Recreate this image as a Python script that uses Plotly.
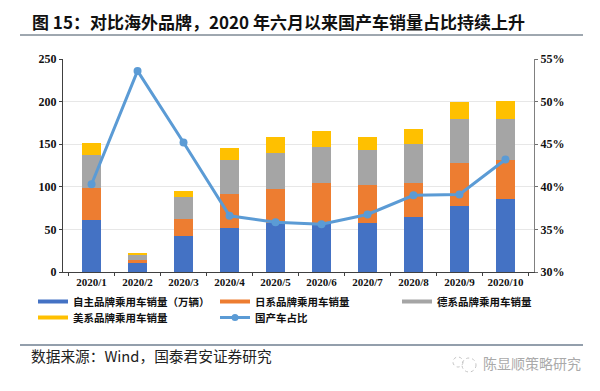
import plotly.graph_objects as go

months = ["2020/1","2020/2","2020/3","2020/4","2020/5","2020/6","2020/7","2020/8","2020/9","2020/10"]
domestic = [61, 11, 42, 52, 57, 58, 58, 65, 78, 86]
japanese = [38, 3.5, 20, 40, 41, 46, 44, 40, 50, 45.5]
german = [38, 5.5, 26, 39, 42, 43, 41, 45, 52, 48.5]
american = [15, 2, 7, 14, 18, 18.6, 16, 18, 20, 21]
share = [40.3, 53.6, 45.2, 36.6, 35.85, 35.6, 36.75, 39.0, 39.1, 43.2]

names = ["自主品牌乘用车销量\uff08万辆\uff09", "日系品牌乘用车销量", "德系品牌乘用车销量", "美系品牌乘用车销量"]
colors = ["#4472c4", "#ed7d31", "#a5a5a5", "#ffc000"]
line_name = "国产车占比"
line_color = "#5b9bd5"
title_text = "图 15\uff1a对比海外品牌\uff0c2020 年六月以来国产车销量占比持续上升"
source_text = "数据来源\uff1aWind\uff0c国泰君安证券研究"
mark_text = "陈显顺策略研究"

CJK = "Noto Sans CJK SC"
SERIF = "Liberation Serif"

# page coordinates of the plot area (the page body adds an 8px offset)
L, R, T, B = 63, 534, 59, 272
def px(x): return (x - L) / (R - L)
def py(y): return (B - y) / (B - T)

fig = go.Figure()
for name, vals, c in zip(names, [domestic, japanese, german, american], colors):
    fig.add_trace(go.Bar(x=months, y=vals, name=name, marker=dict(color=c, line=dict(width=0)),
                         showlegend=False, yaxis="y"))
fig.add_trace(go.Scatter(x=months, y=share, name=line_name, yaxis="y2", mode="lines+markers",
                         line=dict(color=line_color, width=3), marker=dict(color=line_color, size=8),
                         showlegend=False))
legend_ids = ["legend", "legend2", "legend3", "legend4"]
for name, c, lid in zip(names, colors, legend_ids):
    fig.add_trace(go.Scatter(x=[None], y=[None], name=name, mode="lines", line=dict(color=c, width=4),
                             yaxis="y", legend=lid))
fig.add_trace(go.Scatter(x=[None], y=[None], name=line_name, mode="lines+markers", yaxis="y2", legend="legend5",
                         line=dict(color=line_color, width=3), marker=dict(color=line_color, size=7)))

def legend_at(x, y):
    return dict(orientation="v", x=px(x), y=py(y), yanchor="top", xanchor="left", itemwidth=30,
                font=dict(family=CJK, size=10.5, color="#111111", weight="bold"), bgcolor="rgba(0,0,0,0)")

def ring(cx, cy, r):
    return dict(type="circle", xref="paper", yref="paper", x0=px(cx - r), x1=px(cx + r), y0=py(cy - r), y1=py(cy + r),
                line=dict(color="#c4c4c4", width=1, dash="dot"))

tick_font = dict(family=SERIF, size=12, color="#111111", weight="bold")
fig.update_layout(
    width=592, height=383, autosize=False,
    margin=dict(l=L - 8, r=600 - R, t=T - 8, b=391 - B),
    paper_bgcolor="white", plot_bgcolor="white",
    barmode="stack", bargap=0.6,
    font=dict(family=SERIF, color="#111111"),
    xaxis=dict(type="category", tickson="boundaries", ticks="outside", ticklen=3, tickcolor="#404040",
               showline=True, linecolor="#404040", linewidth=1, showgrid=False,
               tickfont=dict(family=SERIF, size=11, color="#111111", weight="bold"), tickangle=0),
    yaxis=dict(range=[0, 250], tickvals=[0, 50, 100, 150, 200, 250], ticks="outside", ticklen=3,
               tickcolor="#404040", showline=True, linecolor="#404040", linewidth=1,
               gridcolor="#e7e7e7", gridwidth=1, zeroline=False, tickfont=tick_font),
    yaxis2=dict(range=[30, 55], tickvals=[30, 35, 40, 45, 50, 55], ticktext=["30%", "35%", "40%", "45%", "50%", "55%"],
                overlaying="y", side="right", ticks="outside", ticklen=3, tickcolor="#707070",
                showline=True, linecolor="#808080", linewidth=1, showgrid=False, zeroline=False, tickfont=tick_font),
    legend=legend_at(33, 287),
    legend2=legend_at(215, 287),
    legend3=legend_at(397, 287),
    legend4=legend_at(33, 303),
    legend5=legend_at(215, 303),
    shapes=[
        dict(type="line", xref="paper", yref="paper", x0=px(20), x1=px(583), y0=py(35), y1=py(35),
             line=dict(color="#3f5060", width=1)),
        dict(type="line", xref="paper", yref="paper", x0=px(20), x1=px(583), y0=py(345), y1=py(345),
             line=dict(color="#6f7f90", width=1.5)),
        ring(469, 365, 7),
        ring(458, 362, 5),
    ],
    annotations=[
        dict(text=title_text, xref="paper", yref="paper",
             x=px(30), y=py(22), xanchor="left", yanchor="middle", showarrow=False,
             font=dict(family=CJK, size=17, color="#111111", weight="bold")),
        dict(text=source_text, xref="paper", yref="paper",
             x=px(29), y=py(355), xanchor="left", yanchor="middle", showarrow=False,
             font=dict(family=CJK, size=14.7, color="#222222")),
        dict(text=mark_text, xref="paper", yref="paper",
             x=px(583), y=py(363), xanchor="right", yanchor="middle", showarrow=False,
             font=dict(family=CJK, size=14, color="#aaaaaa")),
    ],
)
fig.write_html("out.html")
